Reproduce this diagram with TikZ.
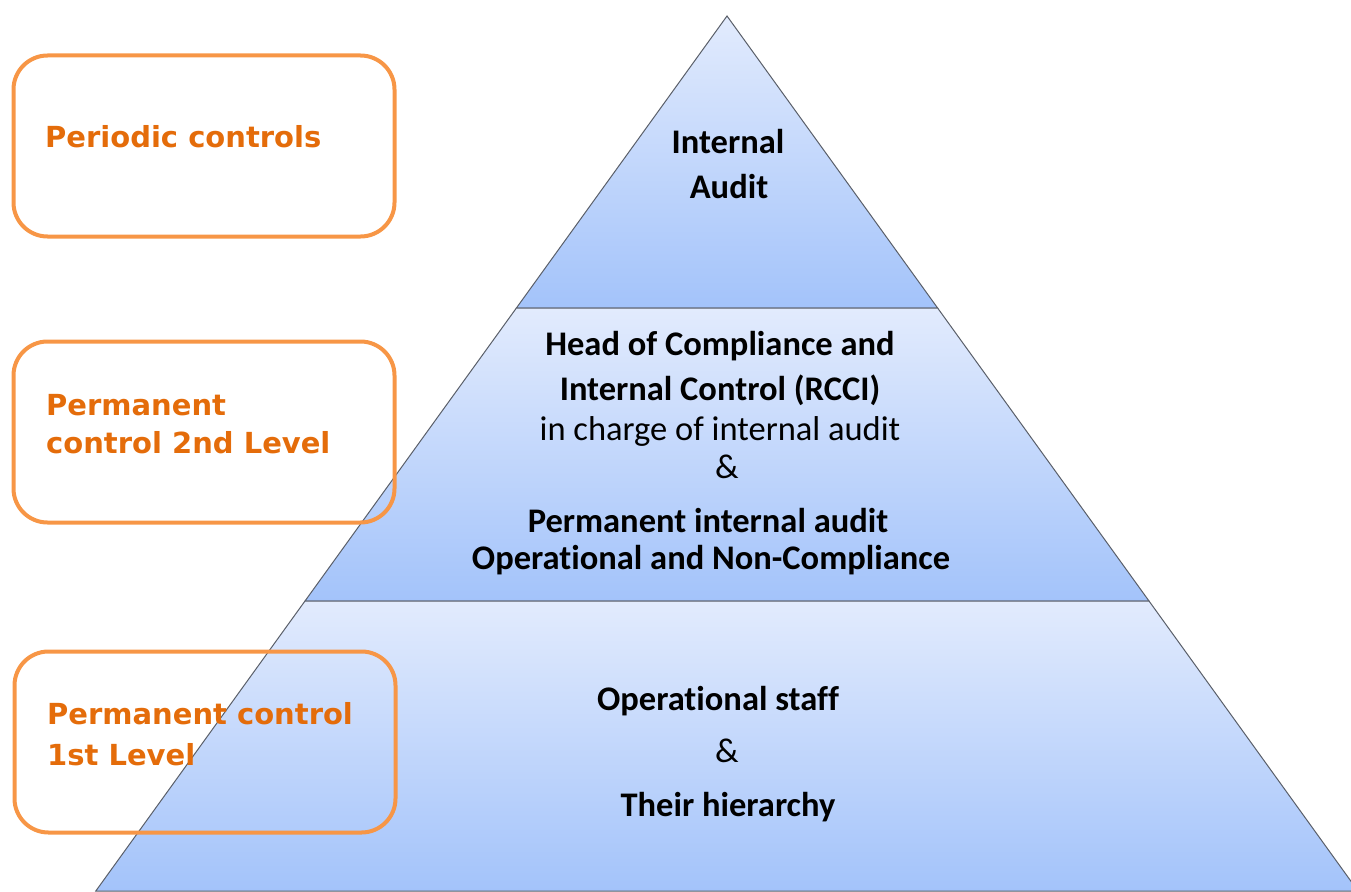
\documentclass[tikz,border=0pt]{standalone}
\usepackage{fontspec}
\setmainfont[Ligatures=NoCommon]{Carlito}
\newfontfamily\boxfont{DejaVu Sans}
\usetikzlibrary{calc}
\definecolor{tierTop}{RGB}{226,235,253}
\definecolor{tierBot}{RGB}{163,195,250}
\definecolor{edgeGray}{RGB}{90,95,105}
\definecolor{frameOrange}{RGB}{247,150,70}
\definecolor{labelOrange}{RGB}{228,108,10}
\tikzset{
  tier/.style={top color=tierTop, bottom color=tierBot, draw=edgeGray, line width=1pt},
  ctrlbox/.style={draw=frameOrange, line width=4pt, rounded corners=34pt,
    minimum width=381pt, minimum height=181pt, inner sep=0pt, fill=none},
  ctrltext/.style={font=\boxfont\bfseries\fontsize{29}{38}\selectfont, text=labelOrange,
    anchor=base west, inner sep=0pt, align=left},
  tiertext/.style={font=\bfseries\fontsize{34.5}{40}\selectfont, anchor=base, inner sep=0pt},
  tierplain/.style={font=\fontsize{34.5}{40}\selectfont, anchor=base, inner sep=0pt}
}
\begin{document}
\begin{tikzpicture}[x=1pt,y=-1pt]
\useasboundingbox (0,0) rectangle (1351,891);
% pyramid outline points
\coordinate (apex) at (727,16);
\coordinate (l1) at (516.4,308);
\coordinate (r1) at (937.6,308);
\coordinate (l2) at (305,601);
\coordinate (r2) at (1149,601);
\coordinate (l3) at (95.8,891);
\coordinate (r3) at (1358,891);
\begin{scope}
\clip (0,0) rectangle (1351,891);
% three tiers
\path[tier] (apex) -- (r1) -- (l1) -- cycle;
\path[tier] (l1) -- (r1) -- (r2) -- (l2) -- cycle;
\path[tier] (l2) -- (r2) -- (r3) -- (l3) -- cycle;
\end{scope}
% tier texts
\node[tiertext] (ia1) at (728,153) {Internal};
\node[tiertext] (ia2) at (729,198) {Audit};
\node[tiertext] (hc1) at (720,355) {Head of Compliance and};
\node[tiertext] (hc2) at (720,400) {Internal Control (RCCI)};
\node[tierplain] (hc3) at (720,440) {in charge of internal audit};
\node[tierplain] (hc4) at (727,478) {\&};
\node[tiertext] (pa1) at (708,532) {Permanent internal audit};
\node[tiertext] (pa2) at (711,569) {Operational and Non-Compliance};
\node[tiertext] (os1) at (718,710) {Operational staff};
\node[tierplain] (os2) at (727,762) {\&};
\node[tiertext] (os3) at (728,816) {Their hierarchy};
% control level boxes
\node[ctrlbox] (pc) at (204,146) {};
\node[ctrlbox] (p2) at (204,432) {};
\node[ctrlbox] (p1) at (205,742) {};
\node[ctrltext] (pct) at (45,147) {Periodic controls};
\node[ctrltext] (p2a) at (46,415) {Permanent};
\node[ctrltext] (p2b) at (46,453) {control 2nd Level};
\node[ctrltext] (p1a) at (47,724) {Permanent control};
\node[ctrltext] (p1b) at (47,765) {1st Level};
\end{tikzpicture}
\end{document}
